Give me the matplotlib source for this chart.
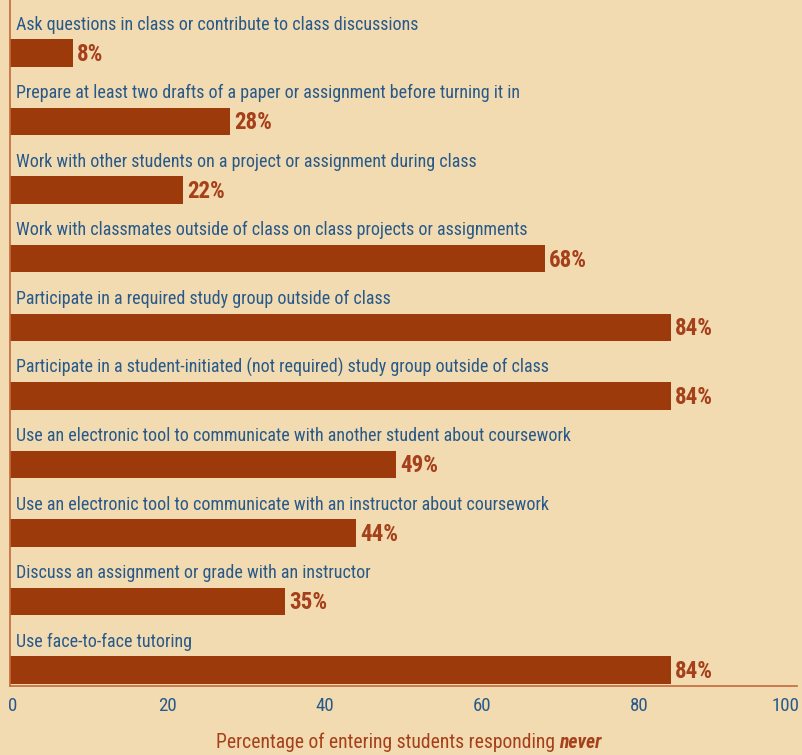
import matplotlib
matplotlib.use("Agg")
import matplotlib.pyplot as plt
from matplotlib import font_manager
from matplotlib.transforms import ScaledTranslation

categories = [
    "Ask questions in class or contribute to class discussions",
    "Prepare at least two drafts of a paper or assignment before turning it in",
    "Work with other students on a project or assignment during class",
    "Work with classmates outside of class on class projects or assignments",
    "Participate in a required study group outside of class",
    "Participate in a student-initiated (not required) study group outside of class",
    "Use an electronic tool to communicate with another student about coursework",
    "Use an electronic tool to communicate with an instructor about coursework",
    "Discuss an assignment or grade with an instructor",
    "Use face-to-face tutoring",
]
values = [8, 28, 22, 68, 84, 84, 49, 44, 35, 84]
xticks = [0, 20, 40, 60, 80, 100]

SMAP = {"ultra-condensed": 100, "extra-condensed": 200, "condensed": 300,
        "semi-condensed": 400, "normal": 500, "semi-expanded": 600,
        "expanded": 700, "extra-expanded": 800, "ultra-expanded": 900}

def sval(s):
    if isinstance(s, (int, float)):
        return s
    return SMAP.get(str(s).lower(), 500)

cands = []
for f in font_manager.fontManager.ttflist:
    if f.style != "normal" or f.weight not in (400, "normal", "regular"):
        continue
    sv = sval(f.stretch)
    if sv < 500:
        pref = 0 if f.name.split()[0] in ("Roboto", "Noto", "Open", "Liberation") else 1
        cands.append((abs(sv - 300), pref, f.name, f.stretch))
cands.sort()
if cands:
    fam, stretch = cands[0][2], cands[0][3]
else:
    fam, stretch = "DejaVu Sans", "normal"
plt.rcParams['font.family'] = [fam, 'DejaVu Sans']
plt.rcParams['font.stretch'] = stretch

BG = "#F2DBB1"
BAR = "#9C3A0C"
BLUE = "#27598A"
RUST = "#A5401A"
SPINE = "#C4693C"

fig = plt.figure(figsize=(8.03, 7.55), dpi=100, facecolor=BG)
ax = fig.add_axes([10/803, 69/755, 787/803, 686/755], facecolor=BG)

y = list(range(len(values)))
ax.barh(y, values, height=0.4, color=BAR, edgecolor="none")
ax.set_xlim(0, 100)
ax.set_ylim(9.233, -0.773)

fig.canvas.draw()
r = fig.canvas.get_renderer()
probe = fig.text(0, 0, categories[0], fontsize=12.5)
pw = probe.get_window_extent(r).width
probe.remove()
lab_fs = 12.5 * 406 / pw
val_fs = lab_fs * 1.28

for i, (c, v) in enumerate(zip(categories, values)):
    ax.annotate(c, xy=(0, i - 0.2), xytext=(4, 4), textcoords="offset points",
                ha="left", va="bottom", color=BLUE, fontsize=lab_fs)
    ax.annotate(f"{v}%", xy=(v, i), xytext=(3, -1), textcoords="offset points",
                ha="left", va="center", color=RUST, fontsize=val_fs, fontweight="bold")

ax.set_yticks([])
ax.set_xticks(xticks)
ax.set_xticklabels([str(t) for t in xticks], color=BLUE, fontsize=lab_fs * 1.05)
ax.tick_params(axis="x", length=0, pad=8)
lbls = ax.get_xticklabels()
lbls[0].set_transform(lbls[0].get_transform() + ScaledTranslation(3/100, 0, fig.dpi_scale_trans))
lbls[-1].set_transform(lbls[-1].get_transform() + ScaledTranslation(-11/100, 0, fig.dpi_scale_trans))
for s in ["top", "right"]:
    ax.spines[s].set_visible(False)
ax.spines["left"].set_color(SPINE)
ax.spines["bottom"].set_color(SPINE)
ax.spines["left"].set_linewidth(1.2)
ax.spines["bottom"].set_linewidth(1.2)

xl_fs = lab_fs * 1.09
t1 = fig.text(0, 0, "Percentage of entering students responding ", color=RUST, fontsize=xl_fs)
t2 = fig.text(0, 0, "never", color=RUST, fontsize=xl_fs, fontweight="bold", fontstyle="italic")
w1 = t1.get_window_extent(r).width
w2 = t2.get_window_extent(r).width
cx = 409
ypix = 755 - 748
x0 = cx - (w1 + w2) / 2
t1.set_position((x0 / 803, ypix / 755))
t2.set_position(((x0 + w1) / 803, ypix / 755))
t1.set_va("baseline"); t2.set_va("baseline")

fig.savefig("out.png", dpi=100, facecolor=BG)
